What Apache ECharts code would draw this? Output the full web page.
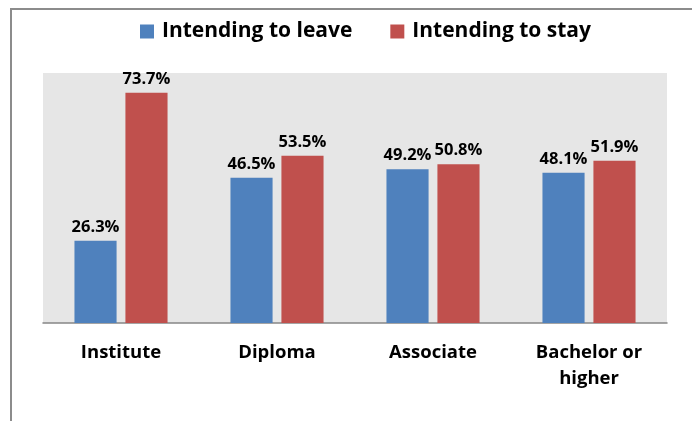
<!DOCTYPE html>
<html>
<head>
<meta charset="utf-8">
<script src="https://cdn.jsdelivr.net/npm/echarts@6/dist/echarts.min.js"></script>
<style>
  html, body { margin: 0; padding: 0; background: #fff; }
  #chart { width: 692px; height: 421px; }
</style>
</head>
<body>
<div id="chart"></div>
<script>
// Share of respondents by education level
const categories = ['Institute', 'Diploma', 'Associate', 'Bachelor or\nhigher'];
const leaveValues = [26.3, 46.5, 49.2, 48.1];
const stayValues = [73.7, 53.5, 50.8, 51.9];
const seriesNames = ['Intending to leave', 'Intending to stay'];

const FONT = '"Open Sans", sans-serif';

const chart = echarts.init(document.getElementById('chart'), null, { renderer: 'canvas' });

const labelStyle = {
  show: true,
  position: 'top',
  distance: 5,
  formatter: p => p.value.toFixed(1) + '%',
  color: '#000',
  fontFamily: FONT,
  fontWeight: 'bold',
  fontSize: 16.5
};

chart.setOption({
  animation: false,
  backgroundColor: '#fff',
  textStyle: { fontFamily: FONT },
  legend: {
    top: 16,
    left: 135,
    itemWidth: 14,
    itemHeight: 14,
    itemGap: 38,
    icon: 'rect',
    textStyle: { fontFamily: FONT, fontWeight: 'bold', fontSize: 21, color: '#000', padding: [0, 0, 0, 3] },
    data: seriesNames
  },
  grid: { left: 43, right: 25, top: 73, bottom: 98, show: true, backgroundColor: '#e6e6e6', borderWidth: 0 },
  xAxis: {
    type: 'category',
    data: categories,
    axisLine: { lineStyle: { color: '#868686', width: 1.5 } },
    axisTick: { show: false },
    axisLabel: {
      color: '#000', fontFamily: FONT, fontWeight: 'bold', fontSize: 18.5,
      margin: 17, lineHeight: 26, verticalAlign: 'top'
    }
  },
  yAxis: {
    type: 'value',
    min: 0, max: 80,
    show: false,
    splitLine: { show: false }
  },
  series: [
    {
      name: seriesNames[0], type: 'bar', data: leaveValues,
      itemStyle: { color: '#4f81bd' },
      barWidth: '27%', barGap: '21%',
      label: labelStyle
    },
    {
      name: seriesNames[1], type: 'bar', data: stayValues,
      itemStyle: { color: '#c0504d' },
      barWidth: '27%',
      label: labelStyle
    }
  ],
  graphic: [
    { type: 'line', shape: { x1: 10, y1: 9, x2: 692, y2: 9 }, style: { stroke: '#8c8c8c', lineWidth: 2 } },
    { type: 'line', shape: { x1: 11, y1: 8, x2: 11, y2: 421 }, style: { stroke: '#8c8c8c', lineWidth: 2 } }
  ]
});
</script>
</body>
</html>
